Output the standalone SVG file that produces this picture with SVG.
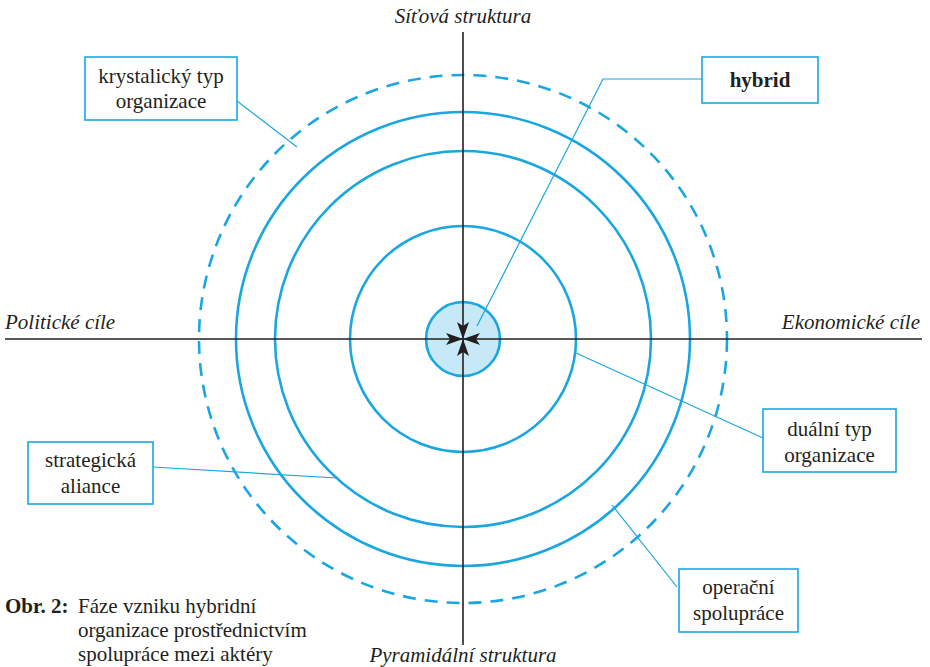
<svg xmlns="http://www.w3.org/2000/svg" width="930" height="667" viewBox="0 0 930 667">
<style>
.ring{fill:none;stroke:#1aa6e0;stroke-width:2.6}
.dash{fill:none;stroke:#1aa6e0;stroke-width:2.6;stroke-dasharray:13 9}
.box{fill:#fff;stroke:#1aa6e0;stroke-width:1.6}
.conn{fill:none;stroke:#1aa6e0;stroke-width:1.2}
.axis{stroke:#231f20;stroke-width:1.6}
text{font-family:"Liberation Serif","Times New Roman",serif;font-size:21px;fill:#231f20}
.t{text-anchor:middle}
.i{font-style:italic}
.arr{fill:#231f20}
</style>
<rect width="930" height="667" fill="#fff"/>
<g id="rings">
<circle class="dash" cx="463" cy="339" r="264"/>
<circle class="ring" cx="463" cy="339" r="227"/>
<circle class="ring" cx="463" cy="339" r="188"/>
<circle class="ring" cx="463" cy="339" r="113"/>
<circle cx="463" cy="339" r="37" fill="#c6e8f7" stroke="#1aa6e0" stroke-width="2.6"/>
</g>
<g id="axes">
<line class="axis" x1="5" y1="339" x2="922" y2="339"/>
<line class="axis" x1="463" y1="32" x2="463" y2="645"/>
<text class="i" x="463" y="23" text-anchor="middle">Síťová struktura</text>
<text class="i" x="463" y="662" text-anchor="middle">Pyramidální struktura</text>
<text class="i" x="5" y="329">Politické cíle</text>
<text class="i" x="920" y="329" text-anchor="end">Ekonomické cíle</text>
</g>
<g id="arrows">
<path class="arr" d="M463,339 L446,333 L450,339 L446,345 Z"/>
<path class="arr" d="M463,339 L480,333 L476,339 L480,345 Z"/>
<path class="arr" d="M463,339 L457,322 L463,326 L469,322 Z"/>
<path class="arr" d="M463,339 L457,356 L463,352 L469,356 Z"/>
</g>
<g id="connectors">
<polyline class="conn" points="702,79 603,79 477,326"/>
<line class="conn" x1="237" y1="101" x2="297" y2="147"/>
<line class="conn" x1="153" y1="467" x2="337" y2="478"/>
<line class="conn" x1="763" y1="438" x2="576" y2="353"/>
<line class="conn" x1="677" y1="587" x2="612" y2="505"/>
</g>
<g id="hybrid">
<rect class="box" x="702" y="57" width="116" height="46"/>
<text class="t" x="760" y="87" font-weight="bold">hybrid</text>
</g>
<g id="krystalicky">
<rect class="box" x="85" y="57" width="152" height="63"/>
<text class="t" x="161" y="83">krystalický typ</text>
<text class="t" x="161" y="108">organizace</text>
</g>
<g id="strategicka">
<rect class="box" x="28" y="442" width="125" height="62"/>
<text class="t" x="90.5" y="467">strategická</text>
<text class="t" x="90.5" y="493">aliance</text>
</g>
<g id="dualni">
<rect class="box" x="763" y="409" width="133" height="63"/>
<text class="t" x="829.5" y="436">duální typ</text>
<text class="t" x="829.5" y="462">organizace</text>
</g>
<g id="operacni">
<rect class="box" x="679" y="569" width="119" height="63"/>
<text class="t" x="738.5" y="594">operační</text>
<text class="t" x="738.5" y="620">spolupráce</text>
</g>
<g id="caption">
<text x="5" y="613" font-weight="bold">Obr. 2:</text>
<text x="78" y="613">Fáze vzniku hybridní</text>
<text x="78" y="637">organizace prostřednictvím</text>
<text x="78" y="661">spolupráce mezi aktéry</text>
</g>
</svg>
